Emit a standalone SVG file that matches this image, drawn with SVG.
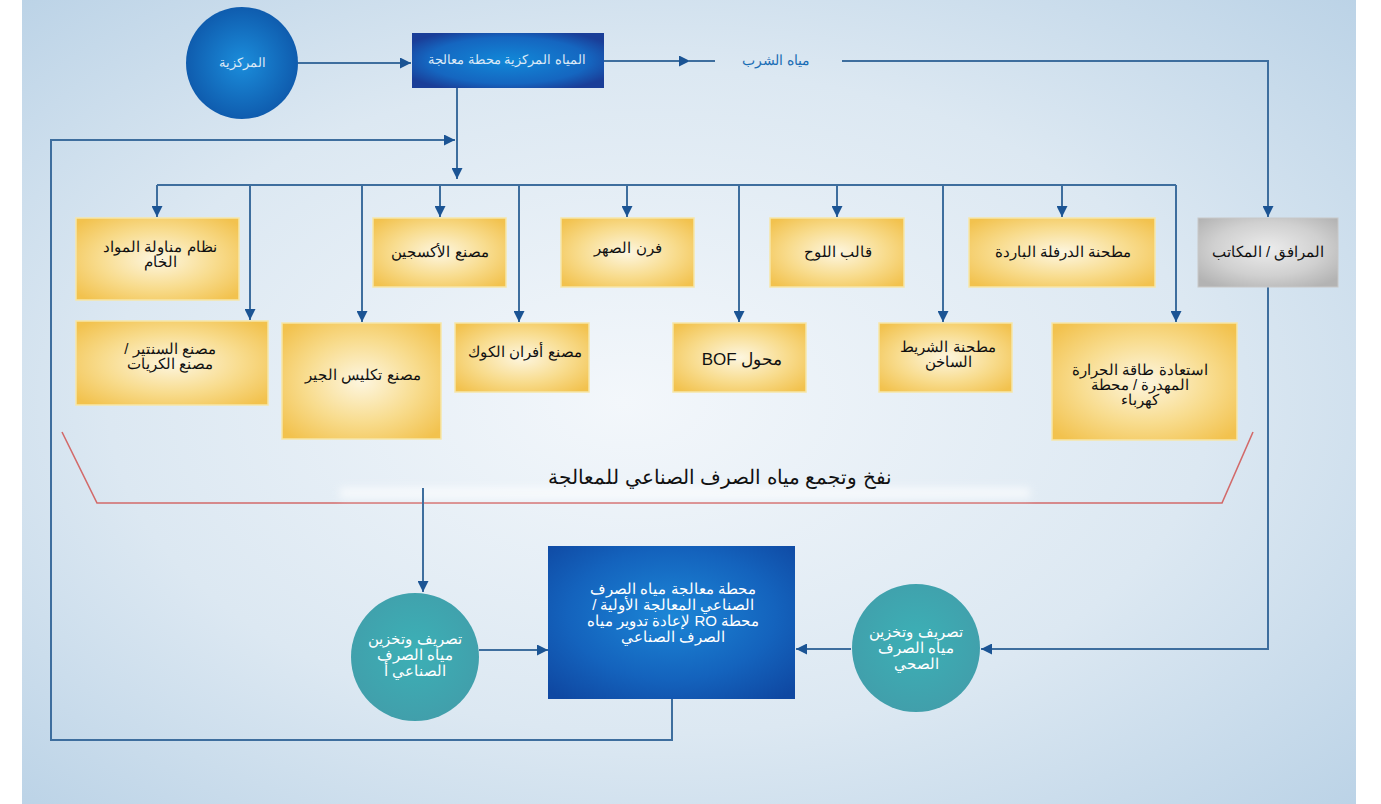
<svg xmlns="http://www.w3.org/2000/svg" width="1381" height="804" viewBox="0 0 1381 804">
<defs>
<radialGradient id="bg" cx="0.5" cy="0.5" r="0.75" fx="0.45" fy="0.5">
<stop offset="0" stop-color="#f3f7fb"/><stop offset="0.55" stop-color="#dce8f2"/><stop offset="1" stop-color="#b7d0e5"/>
</radialGradient>
<radialGradient id="gold" cx="0.5" cy="0.5" r="0.65">
<stop offset="0" stop-color="#fdf6e0"/><stop offset="0.55" stop-color="#f8dc8e"/><stop offset="1" stop-color="#f2c24e"/>
</radialGradient>
<radialGradient id="gray" cx="0.5" cy="0.45" r="0.65">
<stop offset="0" stop-color="#ececec"/><stop offset="0.6" stop-color="#d0d0d0"/><stop offset="1" stop-color="#b3b3b3"/>
</radialGradient>
<radialGradient id="blue" cx="0.5" cy="0.45" r="0.7">
<stop offset="0" stop-color="#1c86d6"/><stop offset="0.6" stop-color="#1463bd"/><stop offset="1" stop-color="#0f48a2"/>
</radialGradient>
<radialGradient id="topbox" cx="0.5" cy="0.5" r="0.6">
<stop offset="0" stop-color="#1188d8"/><stop offset="0.7" stop-color="#1566c0"/><stop offset="1" stop-color="#1a3e98"/>
</radialGradient>
<radialGradient id="sphere" cx="0.5" cy="0.5" r="0.5">
<stop offset="0" stop-color="#1b8ddb"/><stop offset="1" stop-color="#0f5cae"/>
</radialGradient>
<radialGradient id="teal" cx="0.5" cy="0.45" r="0.55">
<stop offset="0" stop-color="#3cb0b6"/><stop offset="1" stop-color="#419fab"/>
</radialGradient>
<filter id="blur" x="-0.2" y="-2" width="1.4" height="5"><feGaussianBlur stdDeviation="4"/></filter>
<marker id="ah" viewBox="0 0 10 10" refX="10" refY="5" markerWidth="13" markerHeight="11" orient="auto" markerUnits="userSpaceOnUse">
<path d="M0,0 L10,5 L0,10 z" fill="#1b5494"/>
</marker>
</defs>
<style>
.ln{fill:none;stroke:#3e6e9e;stroke-width:2}
.gb{fill:url(#gold);stroke:#f6e6a8;stroke-width:1.5}
.t{font-family:"Liberation Sans",Arial,sans-serif;font-size:15px;fill:#111;text-anchor:middle}
.w{font-family:"Liberation Sans",Arial,sans-serif;font-size:15px;fill:#ffffff;text-anchor:middle}
.ws{font-family:"Liberation Sans",Arial,sans-serif;font-size:13px;fill:#dce9f7;text-anchor:middle}
</style>
<rect x="0" y="0" width="1381" height="804" fill="#ffffff"/>
<rect x="22" y="0" width="1334" height="804" fill="url(#bg)"/>

<g id="funnel">
<polyline points="62,432 97,503 1222,503 1253,432" fill="none" stroke="#d26a6a" stroke-width="1.6"/>
<rect x="340" y="488" width="690" height="10" fill="#ffffff" opacity="0.7" filter="url(#blur)"/>
<text x="720" y="484" direction="rtl" style="font-family:'Liberation Sans',Arial,sans-serif;font-size:20px;fill:#111;text-anchor:middle">نفخ وتجمع مياه الصرف الصناعي للمعالجة</text>
</g>

<g id="connectors">
<line class="ln" x1="298" y1="63" x2="411" y2="63" marker-end="url(#ah)"/>
<line class="ln" x1="604" y1="61" x2="690" y2="61" marker-end="url(#ah)"/>
<line class="ln" x1="688" y1="61" x2="715" y2="61"/>
<polyline class="ln" points="842,61 1268,61 1268,217" marker-end="url(#ah)"/>
<line class="ln" x1="457" y1="88" x2="457" y2="179" marker-end="url(#ah)"/>
<polyline class="ln" points="672,699 672,740 51,740 51,140 455,140" marker-end="url(#ah)"/>
<line class="ln" x1="157" y1="185" x2="1176" y2="185"/>
<line class="ln" x1="157" y1="185" x2="157" y2="217" marker-end="url(#ah)"/>
<line class="ln" x1="250" y1="185" x2="250" y2="320" marker-end="url(#ah)"/>
<line class="ln" x1="362" y1="185" x2="362" y2="322" marker-end="url(#ah)"/>
<line class="ln" x1="440" y1="185" x2="440" y2="217" marker-end="url(#ah)"/>
<line class="ln" x1="519" y1="185" x2="519" y2="322" marker-end="url(#ah)"/>
<line class="ln" x1="627" y1="185" x2="627" y2="217" marker-end="url(#ah)"/>
<line class="ln" x1="739" y1="185" x2="739" y2="322" marker-end="url(#ah)"/>
<line class="ln" x1="837" y1="185" x2="837" y2="217" marker-end="url(#ah)"/>
<line class="ln" x1="943" y1="185" x2="943" y2="322" marker-end="url(#ah)"/>
<line class="ln" x1="1062" y1="185" x2="1062" y2="217" marker-end="url(#ah)"/>
<line class="ln" x1="1176" y1="185" x2="1176" y2="322" marker-end="url(#ah)"/>
<line class="ln" x1="423" y1="488" x2="423" y2="592" marker-end="url(#ah)"/>
<line class="ln" x1="479" y1="650" x2="548" y2="650" marker-end="url(#ah)"/>
<polyline class="ln" points="1268,287 1268,649 981,649" marker-end="url(#ah)"/>
<line class="ln" x1="851" y1="649" x2="796" y2="649" marker-end="url(#ah)"/>
</g>

<g id="n-central">
<circle cx="242" cy="63" r="56" fill="url(#sphere)"/>
<text class="ws" x="242" y="67" direction="rtl">المركزية</text>
</g>
<g id="n-treatment">
<rect x="412" y="33" width="192" height="55" fill="url(#topbox)"/>
<text class="ws" x="507" y="64" direction="rtl">المياه المركزية محطة معالجة</text>
</g>
<g id="n-drinking">
<text x="776" y="65" direction="rtl" style="font-family:'Liberation Sans',Arial,sans-serif;font-size:14px;fill:#1a6db5;text-anchor:middle">مياه الشرب</text>
</g>

<g id="n-raw"><rect class="gb" x="76" y="218" width="163" height="82"/>
<text class="t" x="160" y="252" direction="rtl">نظام مناولة المواد</text><text class="t" x="160" y="267" direction="rtl">الخام</text></g>
<g id="n-oxygen"><rect class="gb" x="373" y="218" width="133" height="69"/>
<text class="t" x="440" y="257" direction="rtl">مصنع الأكسجين</text></g>
<g id="n-furnace"><rect class="gb" x="561" y="218" width="133" height="69"/>
<text class="t" x="628" y="253" direction="rtl">فرن الصهر</text></g>
<g id="n-slab"><rect class="gb" x="770" y="218" width="134" height="69"/>
<text class="t" x="838" y="257" direction="rtl">قالب اللوح</text></g>
<g id="n-cold"><rect class="gb" x="969" y="218" width="186" height="69"/>
<text class="t" x="1063" y="257" direction="rtl">مطحنة الدرفلة الباردة</text></g>
<g id="n-utilities"><rect x="1198" y="218" width="140" height="69" fill="url(#gray)" stroke="#c8c8c8" stroke-width="1"/>
<text class="t" x="1268" y="257" direction="rtl">المرافق / المكاتب</text></g>

<g id="n-sinter"><rect class="gb" x="76" y="321" width="192" height="84"/>
<text class="t" x="170" y="354" direction="rtl">مصنع السنتير /</text><text class="t" x="170" y="369" direction="rtl">مصنع الكريات</text></g>
<g id="n-lime"><rect class="gb" x="282" y="323" width="159" height="116"/>
<text class="t" x="363" y="380" direction="rtl">مصنع تكليس الجير</text></g>
<g id="n-coke"><rect class="gb" x="455" y="323" width="134" height="69"/>
<text class="t" x="525" y="357" direction="rtl">مصنع أفران الكوك</text></g>
<g id="n-bof"><rect class="gb" x="673" y="323" width="133" height="69"/>
<text class="t" x="742" y="365" direction="rtl" style="font-size:17px">محول BOF</text></g>
<g id="n-hotstrip"><rect class="gb" x="879" y="323" width="133" height="69"/>
<text class="t" x="948" y="352" direction="rtl">مطحنة الشريط</text><text class="t" x="948" y="367" direction="rtl">الساخن</text></g>
<g id="n-heat"><rect class="gb" x="1052" y="323" width="185" height="117"/>
<text class="t" x="1140" y="375" direction="rtl">استعادة طاقة الحرارة</text><text class="t" x="1140" y="390" direction="rtl">المهدرة / محطة</text><text class="t" x="1140" y="405" direction="rtl">كهرباء</text></g>

<g id="n-indstore">
<circle cx="415" cy="657" r="64" fill="url(#teal)"/>
<text class="w" x="415" y="644" direction="rtl">تصريف وتخزين</text>
<text class="w" x="415" y="660" direction="rtl">مياه الصرف</text>
<text class="w" x="415" y="676" direction="rtl">الصناعي أ</text>
</g>
<g id="n-plant">
<rect x="548" y="546" width="247" height="153" fill="url(#blue)"/>
<text class="w" x="673" y="594" direction="rtl">محطة معالجة مياه الصرف</text>
<text class="w" x="673" y="610" direction="rtl">الصناعي المعالجة الأولية /</text>
<text class="w" x="673" y="626" direction="rtl">محطة RO لإعادة تدوير مياه</text>
<text class="w" x="673" y="642" direction="rtl">الصرف الصناعي</text>
</g>
<g id="n-sanstore">
<circle cx="916" cy="648" r="64" fill="url(#teal)"/>
<text class="w" x="916" y="637" direction="rtl">تصريف وتخزين</text>
<text class="w" x="916" y="653" direction="rtl">مياه الصرف</text>
<text class="w" x="916" y="669" direction="rtl">الصحي</text>
</g>
</svg>
